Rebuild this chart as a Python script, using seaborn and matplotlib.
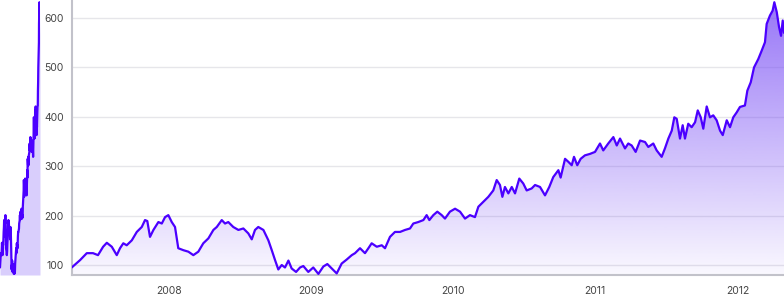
import numpy as np
import pandas as pd
import matplotlib
matplotlib.use("Agg")
import matplotlib.pyplot as plt
import seaborn as sns
from matplotlib.colors import to_rgb

# ---- data (decimal year, price) ----
years = [
    2007.315, 2007.374, 2007.421, 2007.465, 2007.500, 2007.536, 2007.562, 2007.597, 2007.632, 2007.655,
    2007.678, 2007.702, 2007.738, 2007.773, 2007.808, 2007.831, 2007.847, 2007.866, 2007.890, 2007.925,
    2007.949, 2007.972, 2007.995, 2008.019, 2008.042, 2008.065, 2008.101, 2008.136, 2008.171, 2008.206,
    2008.241, 2008.277, 2008.312, 2008.336, 2008.371, 2008.394, 2008.417, 2008.452, 2008.488, 2008.523,
    2008.558, 2008.582, 2008.605, 2008.628, 2008.664, 2008.699, 2008.723, 2008.746, 2008.769, 2008.793,
    2008.816, 2008.840, 2008.863, 2008.894, 2008.922, 2008.945, 2008.980, 2009.015, 2009.051, 2009.086,
    2009.114, 2009.145, 2009.180, 2009.215, 2009.250, 2009.286, 2009.309, 2009.344, 2009.379, 2009.403,
    2009.426, 2009.462, 2009.497, 2009.520, 2009.555, 2009.590, 2009.626, 2009.661, 2009.696, 2009.719,
    2009.754, 2009.790, 2009.813, 2009.832, 2009.860, 2009.888, 2009.919, 2009.942, 2009.977, 2010.013,
    2010.048, 2010.083, 2010.118, 2010.153, 2010.177, 2010.212, 2010.247, 2010.282, 2010.306, 2010.329,
    2010.346, 2010.364, 2010.388, 2010.412, 2010.435, 2010.465, 2010.493, 2010.517, 2010.552, 2010.576,
    2010.611, 2010.646, 2010.676, 2010.704, 2010.740, 2010.756, 2010.787, 2010.810, 2010.834, 2010.850,
    2010.873, 2010.897, 2010.927, 2010.963, 2010.998, 2011.033, 2011.056, 2011.091, 2011.127, 2011.151,
    2011.174, 2011.209, 2011.232, 2011.256, 2011.284, 2011.315, 2011.350, 2011.373, 2011.408, 2011.432,
    2011.467, 2011.490, 2011.514, 2011.538, 2011.556, 2011.573, 2011.596, 2011.615, 2011.631, 2011.654,
    2011.678, 2011.702, 2011.721, 2011.742, 2011.760, 2011.784, 2011.807, 2011.830, 2011.854, 2011.878,
    2011.897, 2011.925, 2011.948, 2011.971, 2011.995, 2012.018, 2012.053, 2012.070, 2012.094, 2012.117,
    2012.147, 2012.171, 2012.194, 2012.206, 2012.229, 2012.248, 2012.260, 2012.277, 2012.293, 2012.307,
    2012.319, 2012.328,
]
prices = [
    95, 110, 124, 124, 120, 137, 145, 137, 120, 134,
    144, 140, 150, 167, 177, 191, 189, 157, 171, 187,
    184, 197, 201, 187, 177, 134, 130, 127, 120, 127,
    144, 154, 171, 177, 191, 184, 187, 177, 171, 174,
    164, 152, 171, 177, 171, 150, 130, 110, 91, 100,
    95, 109, 93, 86, 95, 98, 86, 95, 82, 97,
    102, 93, 83, 103, 111, 120, 124, 134, 124, 134,
    144, 137, 140, 134, 157, 167, 167, 171, 174, 184,
    187, 191, 201, 191, 201, 208, 201, 194, 208, 214,
    208, 194, 201, 197, 218, 228, 238, 251, 272, 262,
    238, 258, 245, 258, 245, 275, 265, 251, 255, 262,
    258, 241, 258, 278, 292, 277, 315, 309, 302, 319,
    302, 315, 322, 325, 329, 346, 332, 346, 359, 342,
    356, 336, 346, 342, 329, 352, 349, 339, 346, 332,
    319, 336, 356, 372, 399, 396, 356, 383, 356, 386,
    379, 389, 413, 399, 376, 421, 399, 403, 393, 372,
    363, 393, 379, 399, 409, 420, 423, 453, 470, 500,
    517, 534, 551, 588, 605, 615, 632, 612, 582, 564,
    595, 570,
]
x_ticks = [2008, 2009, 2010, 2011, 2012]
x_tick_labels = ["2008", "2009", "2010", "2011", "2012"]
y_ticks = [100, 200, 300, 400, 500, 600]

df = pd.DataFrame({"year": years, "price": prices})

sns.set_theme(style="white")
plt.rcParams["font.family"] = ["Inter", "DejaVu Sans"]

W, H = 784, 300
fig = plt.figure(figsize=(W / 100, H / 100), dpi=100)
fig.patch.set_facecolor("white")

line_color = "#4b00ff"
fill_rgb = to_rgb("#7a4ff5")
YMIN, YMAX = 79.8, 636.5
XMIN, XMAX = 2007.317, 2012.328

# ---- small compressed overview on the far left ----
ax2 = fig.add_axes([0, 25 / H, 40 / W, 275 / H])
ax2.fill_between(df["year"], df["price"], YMIN, color="#d9cefc", lw=0)
sns.lineplot(data=df, x="year", y="price", ax=ax2, color=line_color, lw=1.6)
ax2.set_xlim(2007.315, 2012.33)
ax2.set_ylim(YMIN, YMAX)
ax2.set_axis_off()

# ---- main chart ----
ax = fig.add_axes([72 / W, 25 / H, (W - 72) / W, 275 / H])
ax.set_xlim(XMIN, XMAX)
ax.set_ylim(YMIN, YMAX)

for yv in y_ticks:
    ax.axhline(yv, color="#e6e6ea", lw=1.0, zorder=0)

poly = ax.fill_between(df["year"], df["price"], YMIN, color="none", lw=0)
path = poly.get_paths()[0]
n = 256
rgba = np.zeros((n, 1, 4))
rgba[..., 0], rgba[..., 1], rgba[..., 2] = fill_rgb
rgba[:, 0, 3] = np.linspace(0.04, 0.78, n)
im = ax.imshow(rgba, extent=[XMIN, XMAX, YMIN, YMAX], origin="lower",
               aspect="auto", zorder=1, interpolation="bilinear")
im.set_clip_path(path, transform=ax.transData)

sns.lineplot(data=df, x="year", y="price", ax=ax, color=line_color, lw=1.6, zorder=3)

ax.set_xlabel("")
ax.set_ylabel("")
ax.set_xticks(x_ticks)
ax.set_xticklabels(x_tick_labels)
ax.set_yticks(y_ticks)
ax.tick_params(axis="both", which="both", length=4, width=1, color="#b8b8c0",
               labelsize=7.5, labelcolor="#444444", pad=2, direction="out")
ax.tick_params(axis="x", pad=4)
for s in ["top", "right"]:
    ax.spines[s].set_visible(False)
for s in ["left", "bottom"]:
    ax.spines[s].set_color("#c2c2ca")
    ax.spines[s].set_linewidth(1.5)
ax.grid(False)

fig.savefig("out.png", dpi=100, facecolor="white")
